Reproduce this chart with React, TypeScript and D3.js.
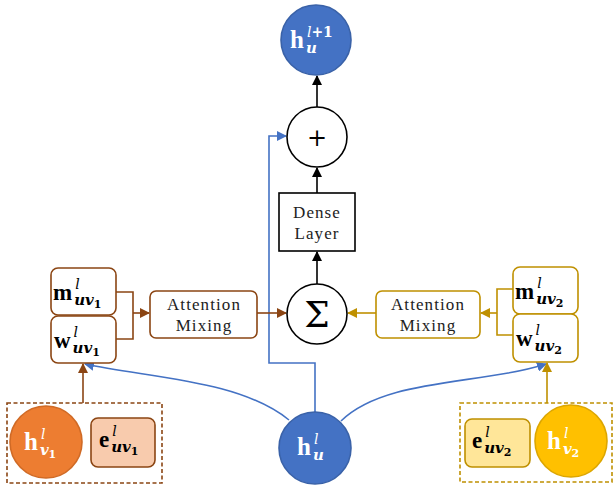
import * as d3 from 'd3'

const BLUE = '#4472C4'
const BROWN = '#8B4513'
const GOLD = '#BF9000'

// node circles: id, center, radius, fill, stroke
const circles = [
  { id: 'hu1', cx: 316, cy: 40, r: 35, fill: BLUE, stroke: '#3a62a8' },
  { id: 'plus', cx: 317, cy: 137, r: 30, fill: '#fff', stroke: '#000' },
  { id: 'sigma', cx: 317, cy: 314, r: 30, fill: '#fff', stroke: '#000' },
  { id: 'hu', cx: 315, cy: 448, r: 36, fill: BLUE, stroke: '#3a62a8' },
  { id: 'hv1', cx: 46, cy: 442, r: 36, fill: '#ED7D31', stroke: '#d06a25' },
  { id: 'hv2', cx: 571, cy: 441, r: 36, fill: '#FFC000', stroke: '#dca600' },
]

// boxes: x, y, w, h, corner radius, fill, stroke
const boxes = [
  { id: 'dense', x: 279, y: 193, w: 76, h: 58, rx: 0, fill: '#fff', stroke: '#000' },
  { id: 'attnL', x: 150, y: 291, w: 107, h: 47, rx: 6, fill: '#fff', stroke: BROWN },
  { id: 'attnR', x: 376, y: 291, w: 104, h: 47, rx: 6, fill: '#fff', stroke: GOLD },
  { id: 'mL', x: 51, y: 268, w: 65, h: 47, rx: 7, fill: '#fff', stroke: BROWN },
  { id: 'wL', x: 51, y: 316, w: 65, h: 47, rx: 7, fill: '#fff', stroke: BROWN },
  { id: 'mR', x: 513, y: 267, w: 65, h: 47, rx: 7, fill: '#fff', stroke: GOLD },
  { id: 'wR', x: 513, y: 314, w: 65, h: 48, rx: 7, fill: '#fff', stroke: GOLD },
  { id: 'eL', x: 91, y: 418, w: 64, h: 49, rx: 7, fill: '#F8CBAD', stroke: BROWN },
  { id: 'eR', x: 465, y: 419, w: 65, h: 48, rx: 7, fill: '#FFE699', stroke: GOLD },
]

const dashed = [
  { x: 7, y: 403, w: 155, h: 80, stroke: BROWN },
  { x: 460, y: 403, w: 152, h: 79, stroke: GOLD },
]

// straight connectors (polylines); arrow = marker at end
const edges: { pts: [number, number][]; color: string; arrow: boolean }[] = [
  { pts: [[317, 107], [317, 76]], color: '#000', arrow: true },
  { pts: [[317, 193], [317, 168]], color: '#000', arrow: true },
  { pts: [[317, 284], [317, 252]], color: '#000', arrow: true },
  { pts: [[315, 412], [315, 363], [269, 363], [269, 136], [286, 136]], color: BLUE, arrow: true },
  { pts: [[257, 313], [286, 313]], color: BROWN, arrow: true },
  { pts: [[116, 292], [133, 292], [133, 339], [116, 339]], color: BROWN, arrow: false },
  { pts: [[133, 313], [149, 313]], color: BROWN, arrow: true },
  { pts: [[376, 313], [348, 313]], color: GOLD, arrow: true },
  { pts: [[513, 289], [497, 289], [497, 335], [513, 335]], color: GOLD, arrow: false },
  { pts: [[497, 313], [481, 313]], color: GOLD, arrow: true },
  { pts: [[83, 403], [83, 364]], color: BROWN, arrow: true },
  { pts: [[547, 403], [547, 363]], color: GOLD, arrow: true },
]

// curved blue connectors from h_u to the w boxes
const curves: [number, number][][] = [
  [[289, 420], [240, 380], [150, 378], [85, 364]],
  [[341, 421], [385, 378], [480, 385], [546, 364]],
]

// math labels: base letter, superscript, subscript, sub-index
const mathLabels = [
  { x: 290, y: 48, base: 'h', sup: 'l', supRest: '+1', sub: 'u', idx: '', color: '#fff', size: 25 },
  { x: 297, y: 455, base: 'h', sup: 'l', supRest: '', sub: 'u', idx: '', color: '#fff', size: 25 },
  { x: 24, y: 450, base: 'h', sup: 'l', supRest: '', sub: 'v', idx: '1', color: '#fff', size: 25 },
  { x: 547, y: 449, base: 'h', sup: 'l', supRest: '', sub: 'v', idx: '2', color: '#fff', size: 25 },
  { x: 53, y: 300, base: 'm', sup: 'l', supRest: '', sub: 'uv', idx: '1', color: '#000', size: 23 },
  { x: 54, y: 348, base: 'w', sup: 'l', supRest: '', sub: 'uv', idx: '1', color: '#000', size: 23 },
  { x: 515, y: 299, base: 'm', sup: 'l', supRest: '', sub: 'uv', idx: '2', color: '#000', size: 23 },
  { x: 516, y: 346, base: 'w', sup: 'l', supRest: '', sub: 'uv', idx: '2', color: '#000', size: 23 },
  { x: 99, y: 447, base: 'e', sup: 'l', supRest: '', sub: 'uv', idx: '1', color: '#000', size: 23 },
  { x: 472, y: 448, base: 'e', sup: 'l', supRest: '', sub: 'uv', idx: '2', color: '#000', size: 23 },
]

const boxTexts = [
  { x: 317, y: 218, lines: ['Dense', 'Layer'] },
  { x: 204, y: 310, lines: ['Attention', 'Mixing'] },
  { x: 428, y: 310, lines: ['Attention', 'Mixing'] },
]

const FONT = '"Liberation Serif", "DejaVu Serif", serif'
const MATH = '"DejaVu Serif", serif'
const baseWidth: Record<string, number> = { h: 0.556, m: 0.833, w: 0.722, e: 0.444 }

const line = d3.line()
const curve = (p: [number, number][]) => {
  const path = d3.path()
  path.moveTo(p[0][0], p[0][1])
  path.bezierCurveTo(p[1][0], p[1][1], p[2][0], p[2][1], p[3][0], p[3][1])
  return path.toString()
}

const colorId = (c: string) => 'arr' + c.replace('#', '')

export default function App() {
  const colors = [BLUE, BROWN, GOLD, '#000']
  return (
    <svg width={613} height={491} style={{ position: 'absolute', left: 0, top: 0, background: '#fff' }}>
      <defs>
        {colors.map(c => (
          <marker key={c} id={colorId(c)} viewBox="0 0 10 10" refX={9} refY={5}
            markerWidth={10} markerHeight={10} markerUnits="userSpaceOnUse" orient="auto">
            <path d="M0,0 L10,5 L0,10 z" fill={c} />
          </marker>
        ))}
      </defs>

      {dashed.map((d, i) => (
        <rect key={i} x={d.x} y={d.y} width={d.w} height={d.h} fill="none"
          stroke={d.stroke} strokeWidth={1.6} strokeDasharray="4,2.5" />
      ))}

      {curves.map((c, i) => (
        <path key={i} d={curve(c)} fill="none" stroke={BLUE} strokeWidth={1.6}
          markerEnd={`url(#${colorId(BLUE)})`} />
      ))}

      {edges.map((e, i) => (
        <path key={i} d={line(e.pts) ?? ''} fill="none" stroke={e.color} strokeWidth={1.6}
          markerEnd={e.arrow ? `url(#${colorId(e.color)})` : undefined} />
      ))}

      {boxes.map(b => (
        <rect key={b.id} x={b.x} y={b.y} width={b.w} height={b.h} rx={b.rx}
          fill={b.fill} stroke={b.stroke} strokeWidth={1.6} />
      ))}

      {circles.map(c => (
        <circle key={c.id} cx={c.cx} cy={c.cy} r={c.r} fill={c.fill} stroke={c.stroke} strokeWidth={1.6} />
      ))}

      <text x={317} y={146} textAnchor="middle" fontFamily={MATH} fontSize={24}>+</text>
      <text x={317} y={327} textAnchor="middle" fontFamily={MATH} fontSize={36}>Σ</text>

      {boxTexts.map((t, i) => (
        <text key={i} textAnchor="middle" fontFamily={FONT} fontSize={17} letterSpacing={1.1} fill="#222">
          {t.lines.map((l, j) => (
            <tspan key={j} x={t.x} y={t.y + j * 21}>{l}</tspan>
          ))}
        </text>
      ))}

      {mathLabels.map((m, i) => {
        const bw = (baseWidth[m.base] ?? 0.6) * m.size
        const sx = m.x + bw + 2
        return (
          <g key={i} fill={m.color}>
            <text x={m.x} y={m.y} fontFamily={FONT} fontSize={m.size} fontWeight="bold">{m.base}</text>
            <text x={sx + 1} y={m.y - 11} fontFamily={MATH} fontSize={14} fontStyle="italic">
              {m.sup}
              {m.supRest && <tspan fontStyle="normal" fontWeight="bold">{m.supRest}</tspan>}
            </text>
            <text x={sx} y={m.y + 5} fontFamily={MATH} fontSize={15} fontStyle="italic" fontWeight="bold">
              {m.sub}
              {m.idx && <tspan fontStyle="normal" fontSize={11} dy={3}>{m.idx}</tspan>}
            </text>
          </g>
        )
      })}
    </svg>
  )
}
